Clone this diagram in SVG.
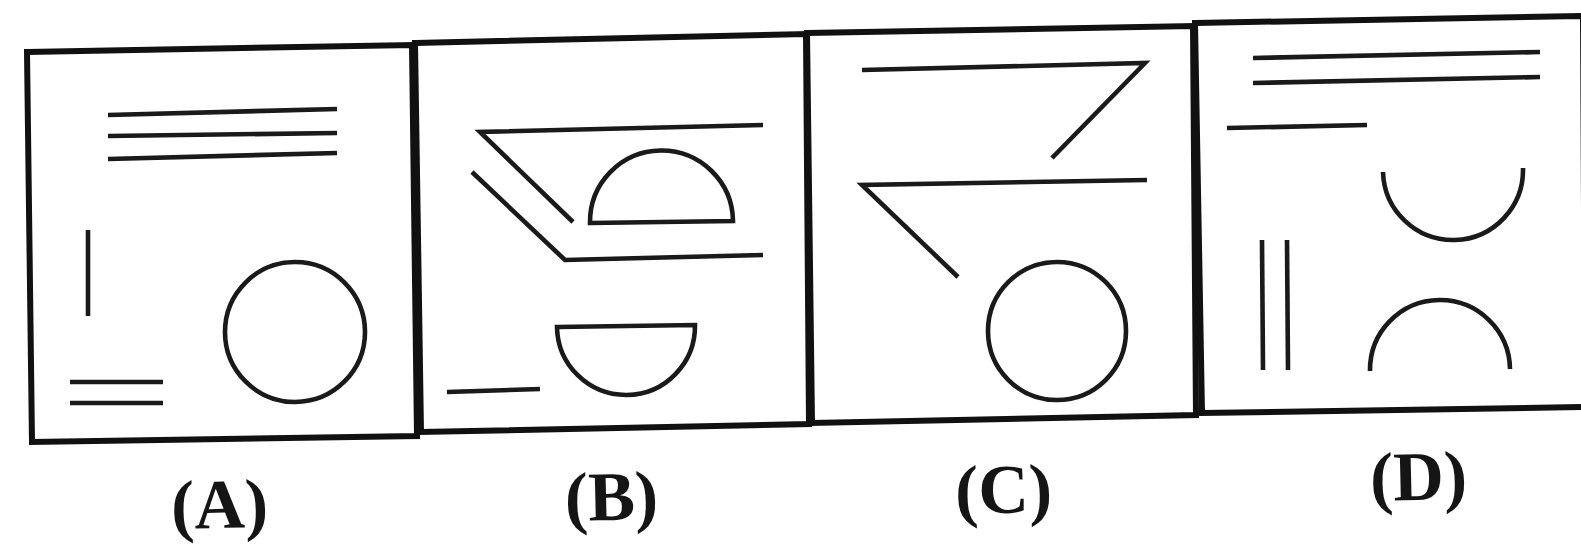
<svg xmlns="http://www.w3.org/2000/svg" width="1581" height="546" viewBox="0 0 1581 546">
<style>
.frame{fill:none;stroke:#111;stroke-width:6;stroke-linejoin:miter}
.ln{fill:none;stroke:#1a1a1a;stroke-width:4.6;stroke-linecap:butt}
.lbl{font-family:"Liberation Serif","Times New Roman",serif;font-size:70px;font-weight:bold;fill:#151515;text-anchor:middle}
</style>
<rect width="1581" height="546" fill="#fff"/>
<g id="panelA">
<polygon class="frame" points="27,52 412,45 417,436 32,442"/>
<line class="ln" x1="108" y1="115" x2="337" y2="109"/>
<line class="ln" x1="108" y1="136" x2="337" y2="133"/>
<line class="ln" x1="108" y1="159" x2="337" y2="153"/>
<line class="ln" x1="88" y1="230" x2="88" y2="316"/>
<line class="ln" x1="70" y1="382" x2="163" y2="382"/>
<line class="ln" x1="70" y1="403" x2="163" y2="403"/>
<circle class="ln" cx="295" cy="332" r="70"/>
</g>
<g id="panelB">
<polygon class="frame" points="415,43 806,34 809,424 421,432"/>
<polyline class="ln" points="763,125 480,132 573,222"/>
<polyline class="ln" points="472,172 565,260 763,255"/>
<path class="ln" d="M590,223 L733,221 A71.5,71.5 0 0 0 590,223 Z"/>
<path class="ln" d="M557,327 L695,325 A69,69 0 0 1 557,327 Z"/>
<line class="ln" x1="447" y1="392" x2="540" y2="389"/>
</g>
<g id="panelC">
<polygon class="frame" points="807,33 1193,26 1196,415 812,423"/>
<polyline class="ln" points="862,70 1145,63 1052,158"/>
<polyline class="ln" points="1147,180 862,185 958,277"/>
<circle class="ln" cx="1057" cy="331" r="69"/>
</g>
<g id="panelD">
<polygon class="frame" points="1195,23 1583,16 1585,407 1202,413"/>
<line class="ln" x1="1253" y1="58" x2="1540" y2="52"/>
<line class="ln" x1="1253" y1="83" x2="1540" y2="77"/>
<line class="ln" x1="1227" y1="128" x2="1367" y2="125"/>
<path class="ln" d="M1383,172 A70,70 0 0 0 1523,168"/>
<path class="ln" d="M1370,371 A70,70 0 0 1 1510,369"/>
<line class="ln" x1="1262" y1="240" x2="1263" y2="370"/>
<line class="ln" x1="1287" y1="240" x2="1288" y2="370"/>
</g>
<g id="labels">
<text class="lbl" x="220" y="528" transform="rotate(-1.3 220 528)">(A)</text>
<text class="lbl" x="612" y="520" transform="rotate(-1.3 612 520)">(B)</text>
<text class="lbl" x="1004" y="513" transform="rotate(-1.3 1004 513)">(C)</text>
<text class="lbl" x="1419" y="500" transform="rotate(-1.3 1419 500)">(D)</text>
</g>
</svg>
